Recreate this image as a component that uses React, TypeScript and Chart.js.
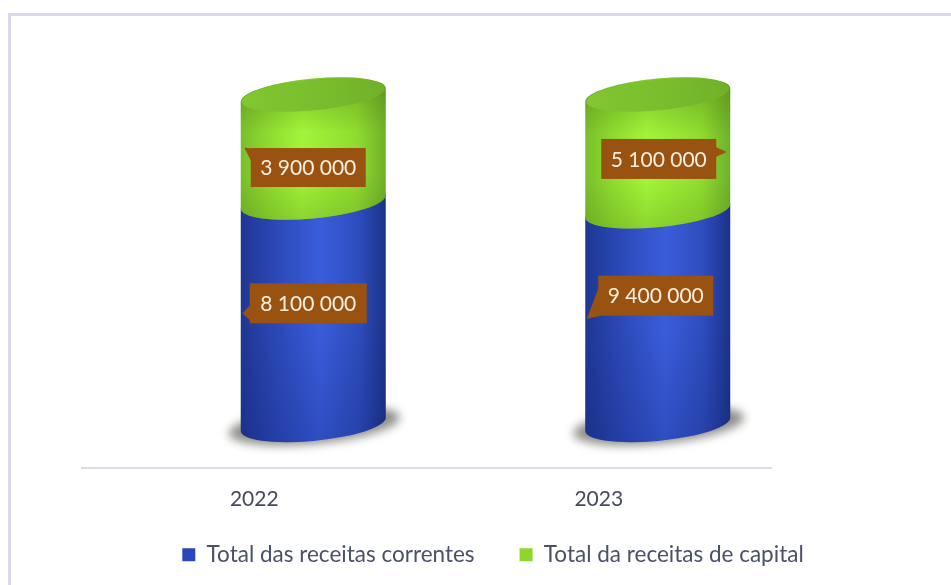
import React, { useEffect, useRef } from "react";
import { Chart, registerables } from "chart.js";

Chart.register(...registerables);

const years = ["2022", "2023"];
const receitasCorrentes = [8100000, 9400000];
const receitasCapital = [3900000, 5100000];
const seriesNames = ["Total das receitas correntes", "Total da receitas de capital"];

const shareOf = (values: number[]) =>
  values.map((v, i) => (v / (receitasCorrentes[i] + receitasCapital[i])) * 100);

const FONT = "Lato";
const DEPTH_X = 59;
const TILT = (-5.5 * Math.PI) / 180;

// callout layout relative to the middle of each cylinder segment: [dataset][category]
const callouts = [
  [
    { dx: -5, dy: -10, w: 117, h: 40, tail: [[-58, 2], [-66, 10], [-58, 17]] },
    { dx: -2, dy: -22, w: 115, h: 40, tail: [[-57, -8], [-69, 23], [-55, 20]] },
  ],
  [
    { dx: -5, dy: 19, w: 115, h: 39, tail: [[-57, -19], [-64, -20], [-57, -6]] },
    { dx: 1, dy: 6, w: 115, h: 40, tail: [[57, -12], [68, -7], [57, -2]] },
  ],
];

const sideColors = [
  ["#1f3792", "#2b49b8", "#3a5ddb", "#2d4cbc", "#1c3288"],
  ["#78bf2c", "#8fdc30", "#a2f43a", "#8fdc30", "#6fb02a"],
];
const sideStops = [
  [0, 0.25, 0.55, 0.82, 1],
  [0, 0.2, 0.42, 0.8, 1],
];

const formatValue = (v: number) => String(v).replace(/\B(?=(\d{3})+(?!\d))/g, " ");

const cylinderPlugin = {
  id: "cylinders",
  afterLayout(chart: any) {
    const lg = chart.legend;
    if (lg) {
      lg.left += 26.5;
      lg.right += 26.5;
      lg.top += 29;
      lg.bottom += 29;
    }
    // tick labels are clipped to the scale box, which was made thin for the legend's sake
    chart.scales.x.bottom += 58;
  },
  beforeDatasetsDraw(chart: any) {
    const ctx = chart.ctx as CanvasRenderingContext2D;
    const metas = [chart.getDatasetMeta(0), chart.getDatasetMeta(1)];
    years.forEach((_, j) => {
      const first = metas[0].data[j];
      const halfW = first.width / 2;
      const a = halfW * 1.004;
      const b = a * 0.225;
      const t0 = Math.atan(-(b / a) * Math.tan(TILT));
      const cx = first.x + DEPTH_X;

      // floor shadow
      ctx.save();
      ctx.filter = "blur(5px)";
      ctx.fillStyle = "#8f8f8a";
      ctx.beginPath();
      ctx.ellipse(cx + 1, first.base + 1, a + 13, b + 2, TILT, 0, Math.PI * 2);
      ctx.fill();
      ctx.restore();

      metas.forEach((meta: any, d: number) => {
        const el = meta.data[j];
        const grad = ctx.createLinearGradient(cx - halfW, 0, cx + halfW, 0);
        sideStops[d].forEach((s, k) => grad.addColorStop(s, sideColors[d][k]));
        ctx.beginPath();
        ctx.ellipse(cx, el.base, a, b, TILT, t0, t0 + Math.PI);
        ctx.ellipse(cx, el.y, a, b, TILT, t0 + Math.PI, t0 + Math.PI * 2);
        ctx.closePath();
        ctx.fillStyle = grad;
        ctx.fill();
        const shade = ctx.createLinearGradient(0, el.y, 0, el.base + b);
        if (d === 0) {
          shade.addColorStop(0, "rgba(15,30,110,0)");
          shade.addColorStop(0.5, "rgba(15,30,110,0)");
          shade.addColorStop(1, "rgba(15,30,110,0.24)");
        } else {
          shade.addColorStop(0, "rgba(70,110,10,0.3)");
          shade.addColorStop(0.3, "rgba(70,110,10,0)");
          shade.addColorStop(0.65, "rgba(70,110,10,0)");
          shade.addColorStop(1, "rgba(70,110,10,0.22)");
        }
        ctx.fillStyle = shade;
        ctx.fill();
      });

      const top = metas[1].data[j];
      const capGrad = ctx.createLinearGradient(cx - halfW, top.y + b, cx + halfW, top.y - b);
      capGrad.addColorStop(0, "#82c831");
      capGrad.addColorStop(0.6, "#78bc2c");
      capGrad.addColorStop(1, "#70b029");
      ctx.beginPath();
      ctx.ellipse(cx, top.y, a - 1, b - 1, TILT, 0, Math.PI * 2);
      ctx.fillStyle = capGrad;
      ctx.fill();
    });

    // value callouts
    const values = [receitasCorrentes, receitasCapital];
    metas.forEach((meta: any, d: number) => {
      years.forEach((_, j) => {
        const el = meta.data[j];
        const c = callouts[d][j];
        const mx = el.x + DEPTH_X + c.dx;
        const my = (el.y + el.base) / 2 + c.dy;
        ctx.fillStyle = "#9a5210";
        ctx.fillRect(mx - c.w / 2, my - c.h / 2, c.w, c.h);
        ctx.beginPath();
        c.tail.forEach((p, k) => {
          if (k === 0) ctx.moveTo(mx + p[0], my + p[1]);
          else ctx.lineTo(mx + p[0], my + p[1]);
        });
        ctx.closePath();
        ctx.fill();
        ctx.fillStyle = "#f6f0e2";
        ctx.font = `21px ${FONT}`;
        ctx.textAlign = "center";
        ctx.textBaseline = "middle";
        ctx.fillText(formatValue(values[d][j]), mx, my + 1);
      });
    });
    return false;
  },
};

export default function App() {
  const ref = useRef<HTMLCanvasElement>(null);
  useEffect(() => {
    const chart = new Chart(ref.current as HTMLCanvasElement, {
      type: "bar",
      data: {
        labels: years,
        datasets: [
          { label: seriesNames[0], data: shareOf(receitasCorrentes), backgroundColor: "#2b47b8", borderWidth: 0 },
          { label: seriesNames[1], data: shareOf(receitasCapital), backgroundColor: "#8ed62d", borderWidth: 0 },
        ],
      },
      options: {
        responsive: false,
        animation: false,
        events: [],
        datasets: { bar: { barPercentage: 0.421, categoryPercentage: 1 } },
        layout: { padding: { left: 82, right: 100, top: 95, bottom: 38 } },
        scales: {
          x: {
            stacked: true,
            grid: { display: false },
            border: { color: "#dcdbea", width: 2 },
            ticks: { color: "#454a5c", font: { family: FONT, size: 21 }, padding: 11 },
            afterFit: (s: any) => {
              s.height = 2;
            },
          },
          y: { stacked: true, display: false, min: -13.07, max: 100 },
          y2: {
            position: "right",
            display: true,
            grid: { display: false },
            border: { display: false },
            ticks: { display: false },
            afterFit: (s: any) => {
              s.width = 80;
            },
          },
        },
        plugins: {
          tooltip: { enabled: false },
          legend: {
            position: "bottom",
            labels: {
              color: "#4a5168",
              boxWidth: 13,
              boxHeight: 13,
              padding: 45,
              font: { family: FONT, size: 22.5 },
            },
          },
        },
      },
      plugins: [cylinderPlugin],
    } as any);
    return () => chart.destroy();
  }, []);
  return (
    <div style={{ position: "fixed", left: 0, top: 0, width: 951, height: 585, background: "#fff" }}>
      <canvas ref={ref} width={951} height={585} style={{ position: "absolute", left: 0, top: 0 }} />
      <div
        style={{
          position: "absolute",
          left: 8,
          top: 13,
          width: 943,
          height: 572,
          boxSizing: "border-box",
          borderTop: "3px solid #dcd9ee",
          borderLeft: "3px solid #dcd9ee",
        }}
      />
    </div>
  );
}
